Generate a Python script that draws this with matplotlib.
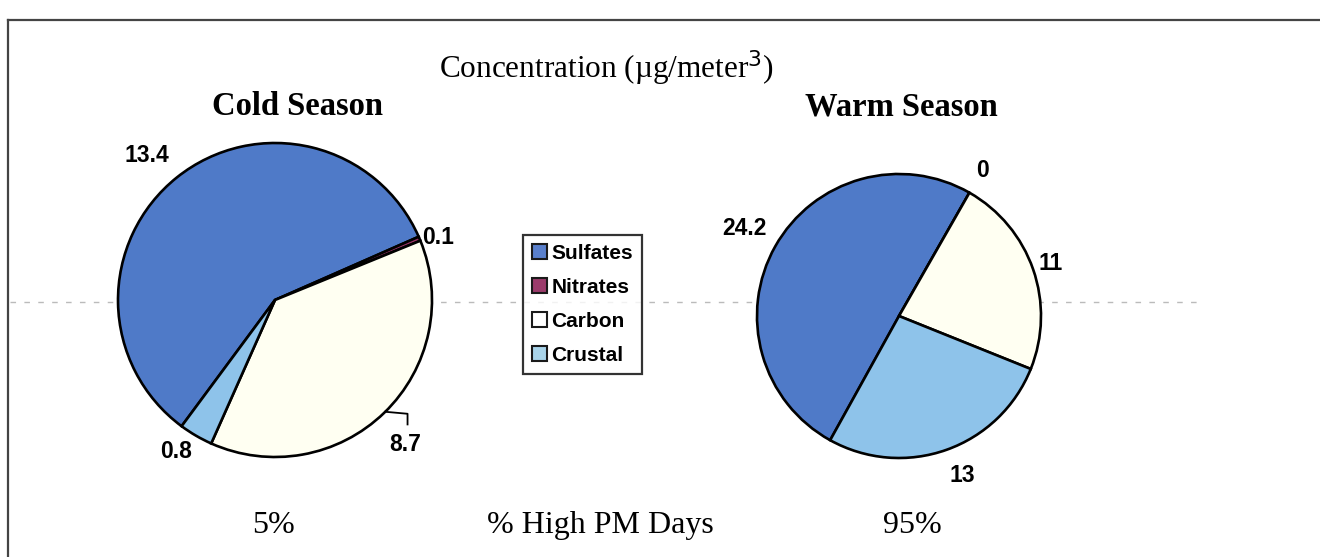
import matplotlib
matplotlib.use("Agg")
import matplotlib.pyplot as plt
import numpy as np
from matplotlib.patches import Patch

# ---------------- data ----------------
components = ["Sulfates", "Nitrates", "Carbon", "Crustal"]
cold_values = [13.4, 0.1, 8.7, 0.8]
warm_values = [24.2, 0.0, 11.0, 13.0]
main_title = "Concentration (\u00b5g/meter$^{3}$)"
season_titles = ["Cold Season", "Warm Season"]
high_pm_share = ["5%", "95%"]
high_pm_label = "% High PM Days"

# ---------------- style ----------------
W, H = 1320, 557
colors = ["#4F7AC8", "#993366", "#FFFFF2", "#8EC3EA"]
legend_colors = ["#5A80CC", "#9B3B6B", "#FFFFFF", "#A9D4EA"]
serif = ["Liberation Serif", "DejaVu Serif"]
sans = ["Liberation Sans", "DejaVu Sans"]

fig = plt.figure(figsize=(W / 100, H / 100), dpi=100)
ax = fig.add_axes([0, 0, 1, 1])


def Y(py):
    return H - py


# faint scan line across the page
ax.plot([10, 1200], [Y(302), Y(302)], color="#bbbbbb", lw=1.0,
        ls=(0, (4, 6)), zorder=0)

# frame lines (left and top)
ax.plot([8, 8], [Y(20), Y(557)], color="#444444", lw=1.6, zorder=1)
ax.plot([8, 1320], [Y(20), Y(20)], color="#444444", lw=1.6, zorder=1)

pies = [
    dict(values=cold_values, center=(275, Y(300)), r=157, start=233.5,
         lab_r=[1.23, 1.11, 1.24, 1.15], lab_da=[3, -2, -2, -3]),
    dict(values=warm_values, center=(899, Y(316)), r=142, start=241.0,
         lab_r=[1.25, 1.18, 1.13, 1.21], lab_da=[0, 0, 0, 2]),
]

for i, p in enumerate(pies):
    wedges, _ = ax.pie(p["values"], colors=colors, center=p["center"],
                       radius=p["r"], startangle=p["start"],
                       counterclock=False,
                       wedgeprops=dict(edgecolor="black", linewidth=1.9))
    cx, cy = p["center"]
    for w, v, lr, da in zip(wedges, p["values"], p["lab_r"], p["lab_da"]):
        mid_deg = (w.theta1 + w.theta2) / 2
        mid = np.deg2rad(mid_deg + da)
        lx = cx + lr * p["r"] * np.cos(mid)
        ly = cy + lr * p["r"] * np.sin(mid)
        ax.text(lx, ly, f"{v:g}", ha="center", va="center", fontsize=16.5,
                fontweight="bold", family=sans, zorder=5)
        if i == 0 and v == cold_values[2]:
            # leader line for the carbon label
            m2 = np.deg2rad(mid_deg + 0.5)
            x0 = cx + p["r"] * np.cos(m2)
            y0 = cy + p["r"] * np.sin(m2)
            ax.plot([x0, lx + 2, lx + 2], [y0, y0 - 2, ly + 20],
                    color="black", lw=1.3, zorder=5)

ax.set_xlim(0, W)
ax.set_ylim(0, H)
ax.set_aspect("equal", adjustable="box")
ax.axis("off")

# titles
ax.text(606, Y(78), main_title, ha="center", va="baseline", fontsize=22.5,
        family=serif)
ax.text(297, Y(115), season_titles[0], ha="center", va="baseline",
        fontsize=23.5, fontweight="bold", family=serif)
ax.text(901, Y(115), season_titles[1], ha="center", va="baseline",
        fontsize=23.5, fontweight="bold", family=serif)

# bottom texts
for x, s in [(273, high_pm_share[0]), (600, high_pm_label),
             (912, high_pm_share[1])]:
    ax.text(x, Y(533), s, ha="center", va="baseline", fontsize=23,
            family=serif)

# legend
handles = [Patch(facecolor=c, edgecolor="#1a1a1a", linewidth=1.5)
           for c in legend_colors]
leg = ax.legend(handles, components, loc="upper left",
                bbox_to_anchor=(523 / W, Y(235) / H), borderaxespad=0,
                frameon=True, fancybox=False, edgecolor="black",
                prop=dict(family=sans, weight="bold", size=15),
                handlelength=0.75, handleheight=0.75, handletextpad=0.2,
                labelspacing=0.72, borderpad=0.42)
leg.get_frame().set_linewidth(1.6)

fig.savefig("out.png", dpi=100)
